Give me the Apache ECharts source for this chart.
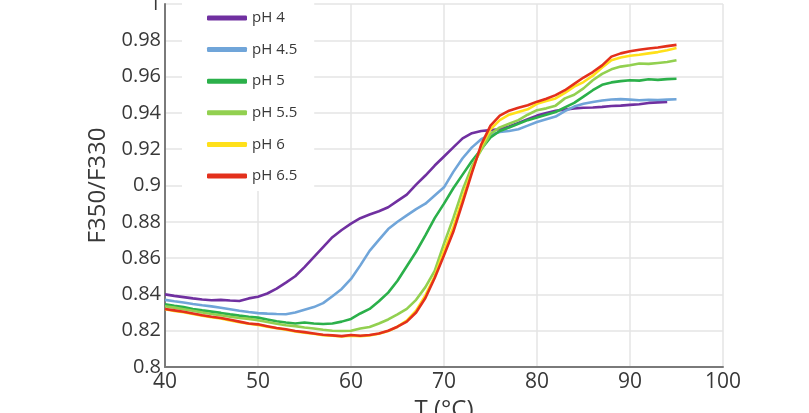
<!DOCTYPE html>
<html>
<head>
<meta charset="utf-8">
<title>F350/F330 vs T</title>
<script src="https://cdn.jsdelivr.net/npm/echarts@6/dist/echarts.min.js"></script>
<style>
  html, body { margin: 0; padding: 0; background: #fff; }
  #chart { width: 809px; height: 413px; }
</style>
</head>
<body>
<div id="chart"></div>
<script>
// Temperature grid (°C), one reading per degree
const temps = [];
for (let t = 40; t <= 95; t++) temps.push(t);

const seriesNames = ['pH 4', 'pH 4.5', 'pH 5', 'pH 5.5', 'pH 6', 'pH 6.5'];
const seriesColors = ['#7030a0', '#70a5d9', '#2bb04a', '#92d050', '#ffe01a', '#e3301c'];

// F350/F330 ratio per pH, aligned with temps (pH 4 stops at 94 °C)
const pH4 = [
  0.8400, 0.8392, 0.8385, 0.8378, 0.8372, 0.8368, 0.8370, 0.8366, 0.8364, 0.8378,
  0.8387, 0.8405, 0.8432, 0.8465, 0.8500, 0.8550, 0.8605, 0.8660, 0.8715, 0.8755,
  0.8790, 0.8820, 0.8840, 0.8858, 0.8880, 0.8915, 0.8950, 0.9005, 0.9055, 0.9110,
  0.9160, 0.9210, 0.9260, 0.9288, 0.9300, 0.9305, 0.9310, 0.9325, 0.9345, 0.9365,
  0.9385, 0.9400, 0.9412, 0.9418, 0.9425, 0.9428, 0.9430, 0.9433, 0.9438, 0.9440,
  0.9444, 0.9448, 0.9455, 0.9458, 0.9460
];
const pH45 = [
  0.8370, 0.8362, 0.8355, 0.8347, 0.8340, 0.8334, 0.8326, 0.8318, 0.8310, 0.8303,
  0.8297, 0.8294, 0.8292, 0.8291, 0.8300, 0.8315, 0.8330, 0.8352, 0.8390, 0.8430,
  0.8485, 0.8560, 0.8640, 0.8700, 0.8760, 0.8800, 0.8835, 0.8870, 0.8900, 0.8945,
  0.8990, 0.9075, 0.9150, 0.9210, 0.9255, 0.9280, 0.9295, 0.9300, 0.9310, 0.9330,
  0.9350, 0.9365, 0.9380, 0.9410, 0.9435, 0.9450, 0.9460, 0.9468, 0.9474, 0.9476,
  0.9473, 0.9470, 0.9472, 0.9471, 0.9473, 0.9475
];
const pH5 = [
  0.8345, 0.8337, 0.8330, 0.8320, 0.8312, 0.8305, 0.8298, 0.8290, 0.8283, 0.8277,
  0.8272, 0.8262, 0.8252, 0.8245, 0.8240, 0.8245, 0.8240, 0.8237, 0.8240, 0.8250,
  0.8265, 0.8295, 0.8320, 0.8362, 0.8410, 0.8475, 0.8555, 0.8635, 0.8725, 0.8820,
  0.8900, 0.8985, 0.9060, 0.9135, 0.9200, 0.9265, 0.9300, 0.9320, 0.9340, 0.9360,
  0.9375, 0.9390, 0.9405, 0.9430, 0.9455, 0.9490, 0.9525, 0.9555, 0.9568, 0.9575,
  0.9580, 0.9578, 0.9585, 0.9582, 0.9586, 0.9588
];
const pH55 = [
  0.8335, 0.8327, 0.8318, 0.8310, 0.8300, 0.8292, 0.8285, 0.8277, 0.8270, 0.8265,
  0.8258, 0.8248, 0.8238, 0.8230, 0.8225, 0.8218, 0.8212, 0.8205, 0.8200, 0.8198,
  0.8200, 0.8212, 0.8220, 0.8240, 0.8262, 0.8290, 0.8320, 0.8370, 0.8440, 0.8530,
  0.8680, 0.8820, 0.8975, 0.9105, 0.9195, 0.9285, 0.9320, 0.9340, 0.9360, 0.9390,
  0.9415, 0.9425, 0.9440, 0.9480, 0.9500, 0.9535, 0.9580, 0.9615, 0.9640, 0.9655,
  0.9663, 0.9672, 0.9670, 0.9675, 0.9680, 0.9690
];
const pH6 = [
  0.8318, 0.8309, 0.8302, 0.8292, 0.8283, 0.8274, 0.8268, 0.8257, 0.8247, 0.8238,
  0.8232, 0.8222, 0.8213, 0.8205, 0.8196, 0.8189, 0.8183, 0.8175, 0.8172, 0.8168,
  0.8173, 0.8170, 0.8174, 0.8183, 0.8198, 0.8222, 0.8255, 0.8310, 0.8395, 0.8500,
  0.8640, 0.8770, 0.8930, 0.9080, 0.9215, 0.9310, 0.9360, 0.9390, 0.9405, 0.9420,
  0.9450, 0.9465, 0.9480, 0.9510, 0.9545, 0.9570, 0.9605, 0.9650, 0.9690, 0.9705,
  0.9715, 0.9720, 0.9728, 0.9735, 0.9745, 0.9757
];
const pH65 = [
  0.8320, 0.8312, 0.8304, 0.8295, 0.8285, 0.8277, 0.8270, 0.8260, 0.8250, 0.8240,
  0.8235, 0.8225, 0.8215, 0.8208, 0.8198, 0.8192, 0.8185, 0.8178, 0.8174, 0.8170,
  0.8176, 0.8172, 0.8176, 0.8185, 0.8200, 0.8222, 0.8250, 0.8300, 0.8380, 0.8490,
  0.8615, 0.8745, 0.8905, 0.9070, 0.9225, 0.9330, 0.9385, 0.9412, 0.9428, 0.9442,
  0.9462, 0.9478, 0.9498, 0.9525, 0.9560, 0.9595, 0.9625, 0.9662, 0.9710, 0.9728,
  0.9740, 0.9748, 0.9755, 0.9760, 0.9768, 0.9775
];
const seriesValues = [pH4, pH45, pH5, pH55, pH6, pH65];

// Axis ranges and tick spacing
const xMin = 40, xMax = 100, xStep = 10;
const yMin = 0.8, yMax = 1, yStep = 0.02;

const chart = echarts.init(document.getElementById('chart'), null, { renderer: 'canvas' });

const axisGrey = '#7a7a7a';
const gridGrey = '#e4e4e4';
const textDark = '#383838';
const font = 'Open Sans, Noto Sans, sans-serif';

chart.setOption({
  animation: false,
  backgroundColor: '#ffffff',
  grid: { left: 165, right: 86, top: 4, bottom: 46, outerBoundsMode: 'none', containLabel: false },
  legend: {
    orient: 'vertical',
    left: 182,
    top: 0,
    padding: [10, 17, 7, 25],
    backgroundColor: '#ffffff',
    itemWidth: 40,
    itemHeight: 5,
    itemGap: 15.6,
    icon: 'roundRect',
    textStyle: { color: textDark, fontSize: 15, lineHeight: 16, fontFamily: font },
    data: seriesNames
  },
  xAxis: {
    type: 'value',
    min: xMin, max: xMax, interval: xStep,
    name: 'T (°C)',
    nameLocation: 'middle',
    nameGap: 30,
    nameTextStyle: { color: textDark, fontSize: 24, fontFamily: font },
    axisLine: { show: true, onZero: false, lineStyle: { color: axisGrey, width: 2 } },
    axisTick: { show: false },
    axisLabel: { color: textDark, fontSize: 21, margin: 5, fontFamily: font },
    splitLine: { show: true, lineStyle: { color: gridGrey, width: 1.5 } }
  },
  yAxis: {
    type: 'value',
    min: yMin, max: yMax, interval: yStep,
    name: 'F350/F330',
    nameLocation: 'middle',
    nameGap: 52,
    nameTextStyle: { color: textDark, fontSize: 24, fontFamily: font },
    axisLine: { show: true, lineStyle: { color: axisGrey, width: 2 } },
    axisTick: { show: false },
    axisLabel: { color: textDark, fontSize: 20, margin: 4, fontFamily: font },
    splitLine: { show: true, lineStyle: { color: gridGrey, width: 1.5 } }
  },
  series: seriesNames.map((name, i) => ({
    name,
    type: 'line',
    showSymbol: false,
    symbol: 'none',
    color: seriesColors[i],
    lineStyle: { width: 2.6, color: seriesColors[i] },
    data: seriesValues[i].map((v, k) => [temps[k], v])
  }))
});
</script>
</body>
</html>
